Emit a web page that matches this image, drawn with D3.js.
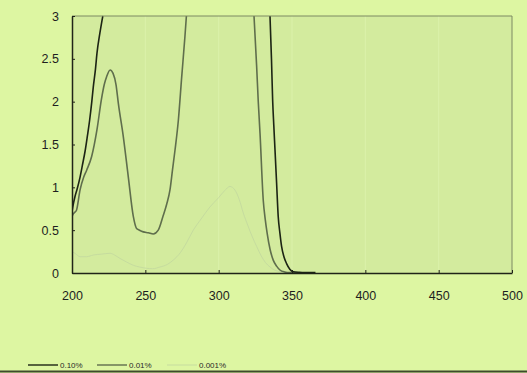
<!DOCTYPE html>
<html><head><meta charset="utf-8">
<script src="https://cdn.jsdelivr.net/npm/d3@7"></script>
<style>
html,body{margin:0;padding:0;background:#ddf6a2;}
svg{display:block;font-family:"Liberation Sans",Arial,sans-serif;}
</style></head>
<body><svg id="c" width="527" height="373"></svg>
<script>
// Data (wavelength nm, absorbance); null = off scale (above 3)
const seriesNames = ["0.10%", "0.01%", "0.001%"];
const xTicks = [200, 250, 300, 350, 400, 450, 500];
const yTicks = [0, 0.5, 1, 1.5, 2, 2.5, 3];

const wl010 = [200, 200.5, 202, 203.5, 205.5, 207, 209, 210.5, 212, 213.5, 214.5, 216, 217, 219, 221, 280, 335, 336, 336.8, 337.6, 338.4, 339.5, 340.6, 341.8, 342.9, 344.5, 346.3, 348.5, 350.9, 355, 360, 366];
const ab010 = [0.72, 0.77, 0.89, 0.98, 1.12, 1.25, 1.43, 1.6, 1.78, 2.0, 2.17, 2.38, 2.56, 2.8, 3.0, null, 3.0, 2.5, 2.02, 1.72, 1.44, 1.05, 0.66, 0.46, 0.31, 0.19, 0.11, 0.045, 0.015, 0.008, 0.005, 0.004];

const wl001 = [200, 200.5, 202, 203, 205.5, 208, 210, 213.4, 217, 220, 222, 223.6, 226, 228, 230, 231.6, 235, 238.4, 241.8, 244, 246, 248.6, 252, 255.4, 258.8, 262, 264.5, 266.8, 268.5, 270.2, 272.5, 274.8, 277, 278, 300, 324.1, 325.9, 327, 328.2, 330.4, 331.8, 333.1, 335, 337.2, 339.5, 341.8, 345, 348.6, 355, 360];
const ab001 = [0.65, 0.68, 0.71, 0.73, 0.97, 1.12, 1.2, 1.36, 1.67, 2.02, 2.2, 2.29, 2.37, 2.33, 2.2, 1.98, 1.59, 1.12, 0.66, 0.52, 0.5, 0.48, 0.47, 0.455, 0.5, 0.66, 0.8, 0.97, 1.2, 1.43, 1.78, 2.29, 2.76, 3.0, null, 3.0, 2.41, 2.0, 1.63, 0.85, 0.62, 0.46, 0.28, 0.15, 0.08, 0.035, 0.012, 0.004, 0.002, 0.002];

const wl0001 = [200, 202, 205.5, 210, 214.5, 220, 226, 229, 232.7, 237, 241.8, 246, 250.9, 255, 260, 265, 269, 274, 278, 282.7, 288, 294, 300, 304, 307.7, 311, 314, 316.8, 320, 323, 325.9, 329, 332, 335, 338, 341.8, 345];
const ab0001 = [0.25, 0.23, 0.19, 0.19, 0.21, 0.22, 0.23, 0.21, 0.17, 0.13, 0.09, 0.07, 0.055, 0.05, 0.07, 0.1, 0.15, 0.24, 0.35, 0.5, 0.63, 0.77, 0.88, 0.96, 1.01, 0.97, 0.86, 0.7, 0.55, 0.42, 0.31, 0.2, 0.12, 0.07, 0.035, 0.015, 0.005];

const seriesColors = ["#1c2414", "#5f6e4c", "#c6dc9f"];
const seriesWidths = [1.6, 1.6, 1.0];

const svg = d3.select("#c");
const m = {l: 72, r: 512, t: 16, b: 273};
const x = d3.scaleLinear().domain([200, 500]).range([m.l, m.r]);
const y = d3.scaleLinear().domain([0, 3]).range([m.b, m.t]);

svg.append("rect").attr("width", 527).attr("height", 373).attr("fill", "#ddf6a2");
svg.append("rect").attr("x", m.l).attr("y", m.t).attr("width", m.r - m.l).attr("height", m.b - m.t).attr("fill", "#d3eb9e");

// faint gridlines
svg.append("g").selectAll("line").data(xTicks.slice(1, -1)).join("line")
  .attr("x1", d => x(d)).attr("x2", d => x(d)).attr("y1", m.t).attr("y2", m.b)
  .attr("stroke", "#dbf1aa").attr("stroke-width", 1);

svg.append("defs").append("clipPath").attr("id", "clip")
  .append("rect").attr("x", m.l).attr("y", m.t - 1).attr("width", m.r - m.l).attr("height", m.b - m.t + 1);

const series = [
  {wl: wl010, ab: ab010},
  {wl: wl001, ab: ab001},
  {wl: wl0001, ab: ab0001}
];
const line = d3.line().defined(d => d[1] !== null).x(d => x(d[0])).y(d => y(d[1])).curve(d3.curveMonotoneX);
const g = svg.append("g").attr("clip-path", "url(#clip)");
[2, 1, 0].forEach(i => {
  const pts = series[i].wl.map((w, j) => [w, series[i].ab[j]]);
  g.append("path").attr("d", line(pts)).attr("fill", "none")
    .attr("stroke", seriesColors[i]).attr("stroke-width", seriesWidths[i]);
});

// frame top/right
svg.append("line").attr("x1", m.l).attr("x2", m.r).attr("y1", m.t).attr("y2", m.t).attr("stroke", "#7d8a62").attr("stroke-width", 1);
svg.append("line").attr("x1", m.r).attr("x2", m.r).attr("y1", m.t).attr("y2", m.b).attr("stroke", "#7d8a62").attr("stroke-width", 1);

// axes
const xa = svg.append("g").attr("transform", `translate(0,${m.b})`)
  .call(d3.axisBottom(x).tickValues(xTicks).tickSizeInner(-3).tickSizeOuter(0).tickPadding(18).tickFormat(d3.format("d")));
const ya = svg.append("g").attr("transform", `translate(${m.l},0)`)
  .call(d3.axisLeft(y).tickValues(yTicks).tickSizeInner(-3).tickSizeOuter(0).tickPadding(13).tickFormat(d => String(d)));
[xa, ya].forEach(a => {
  a.select(".domain").attr("stroke", "#202418").attr("stroke-width", 1.5);
  a.selectAll(".tick line").attr("stroke", "#202418");
  a.selectAll("text").attr("fill", "#1e1e1e").attr("font-size", 12.5);
});

// legend
const legX = [28, 97, 167];
const lg = svg.append("g");
seriesNames.forEach((n, i) => {
  lg.append("line").attr("x1", legX[i]).attr("x2", legX[i] + 30).attr("y1", 365).attr("y2", 365)
    .attr("stroke", seriesColors[i]).attr("stroke-width", i === 2 ? 1 : 1.4);
  lg.append("text").attr("x", legX[i] + 32).attr("y", 368).attr("font-size", 8)
    .attr("fill", "#2a2a2a").text(n);
});

// bottom dark rule
svg.append("line").attr("x1", 0).attr("x2", 527).attr("y1", 371.5).attr("y2", 371.5).attr("stroke", "#3e4a2c").attr("stroke-width", 2);
</script></body></html>
